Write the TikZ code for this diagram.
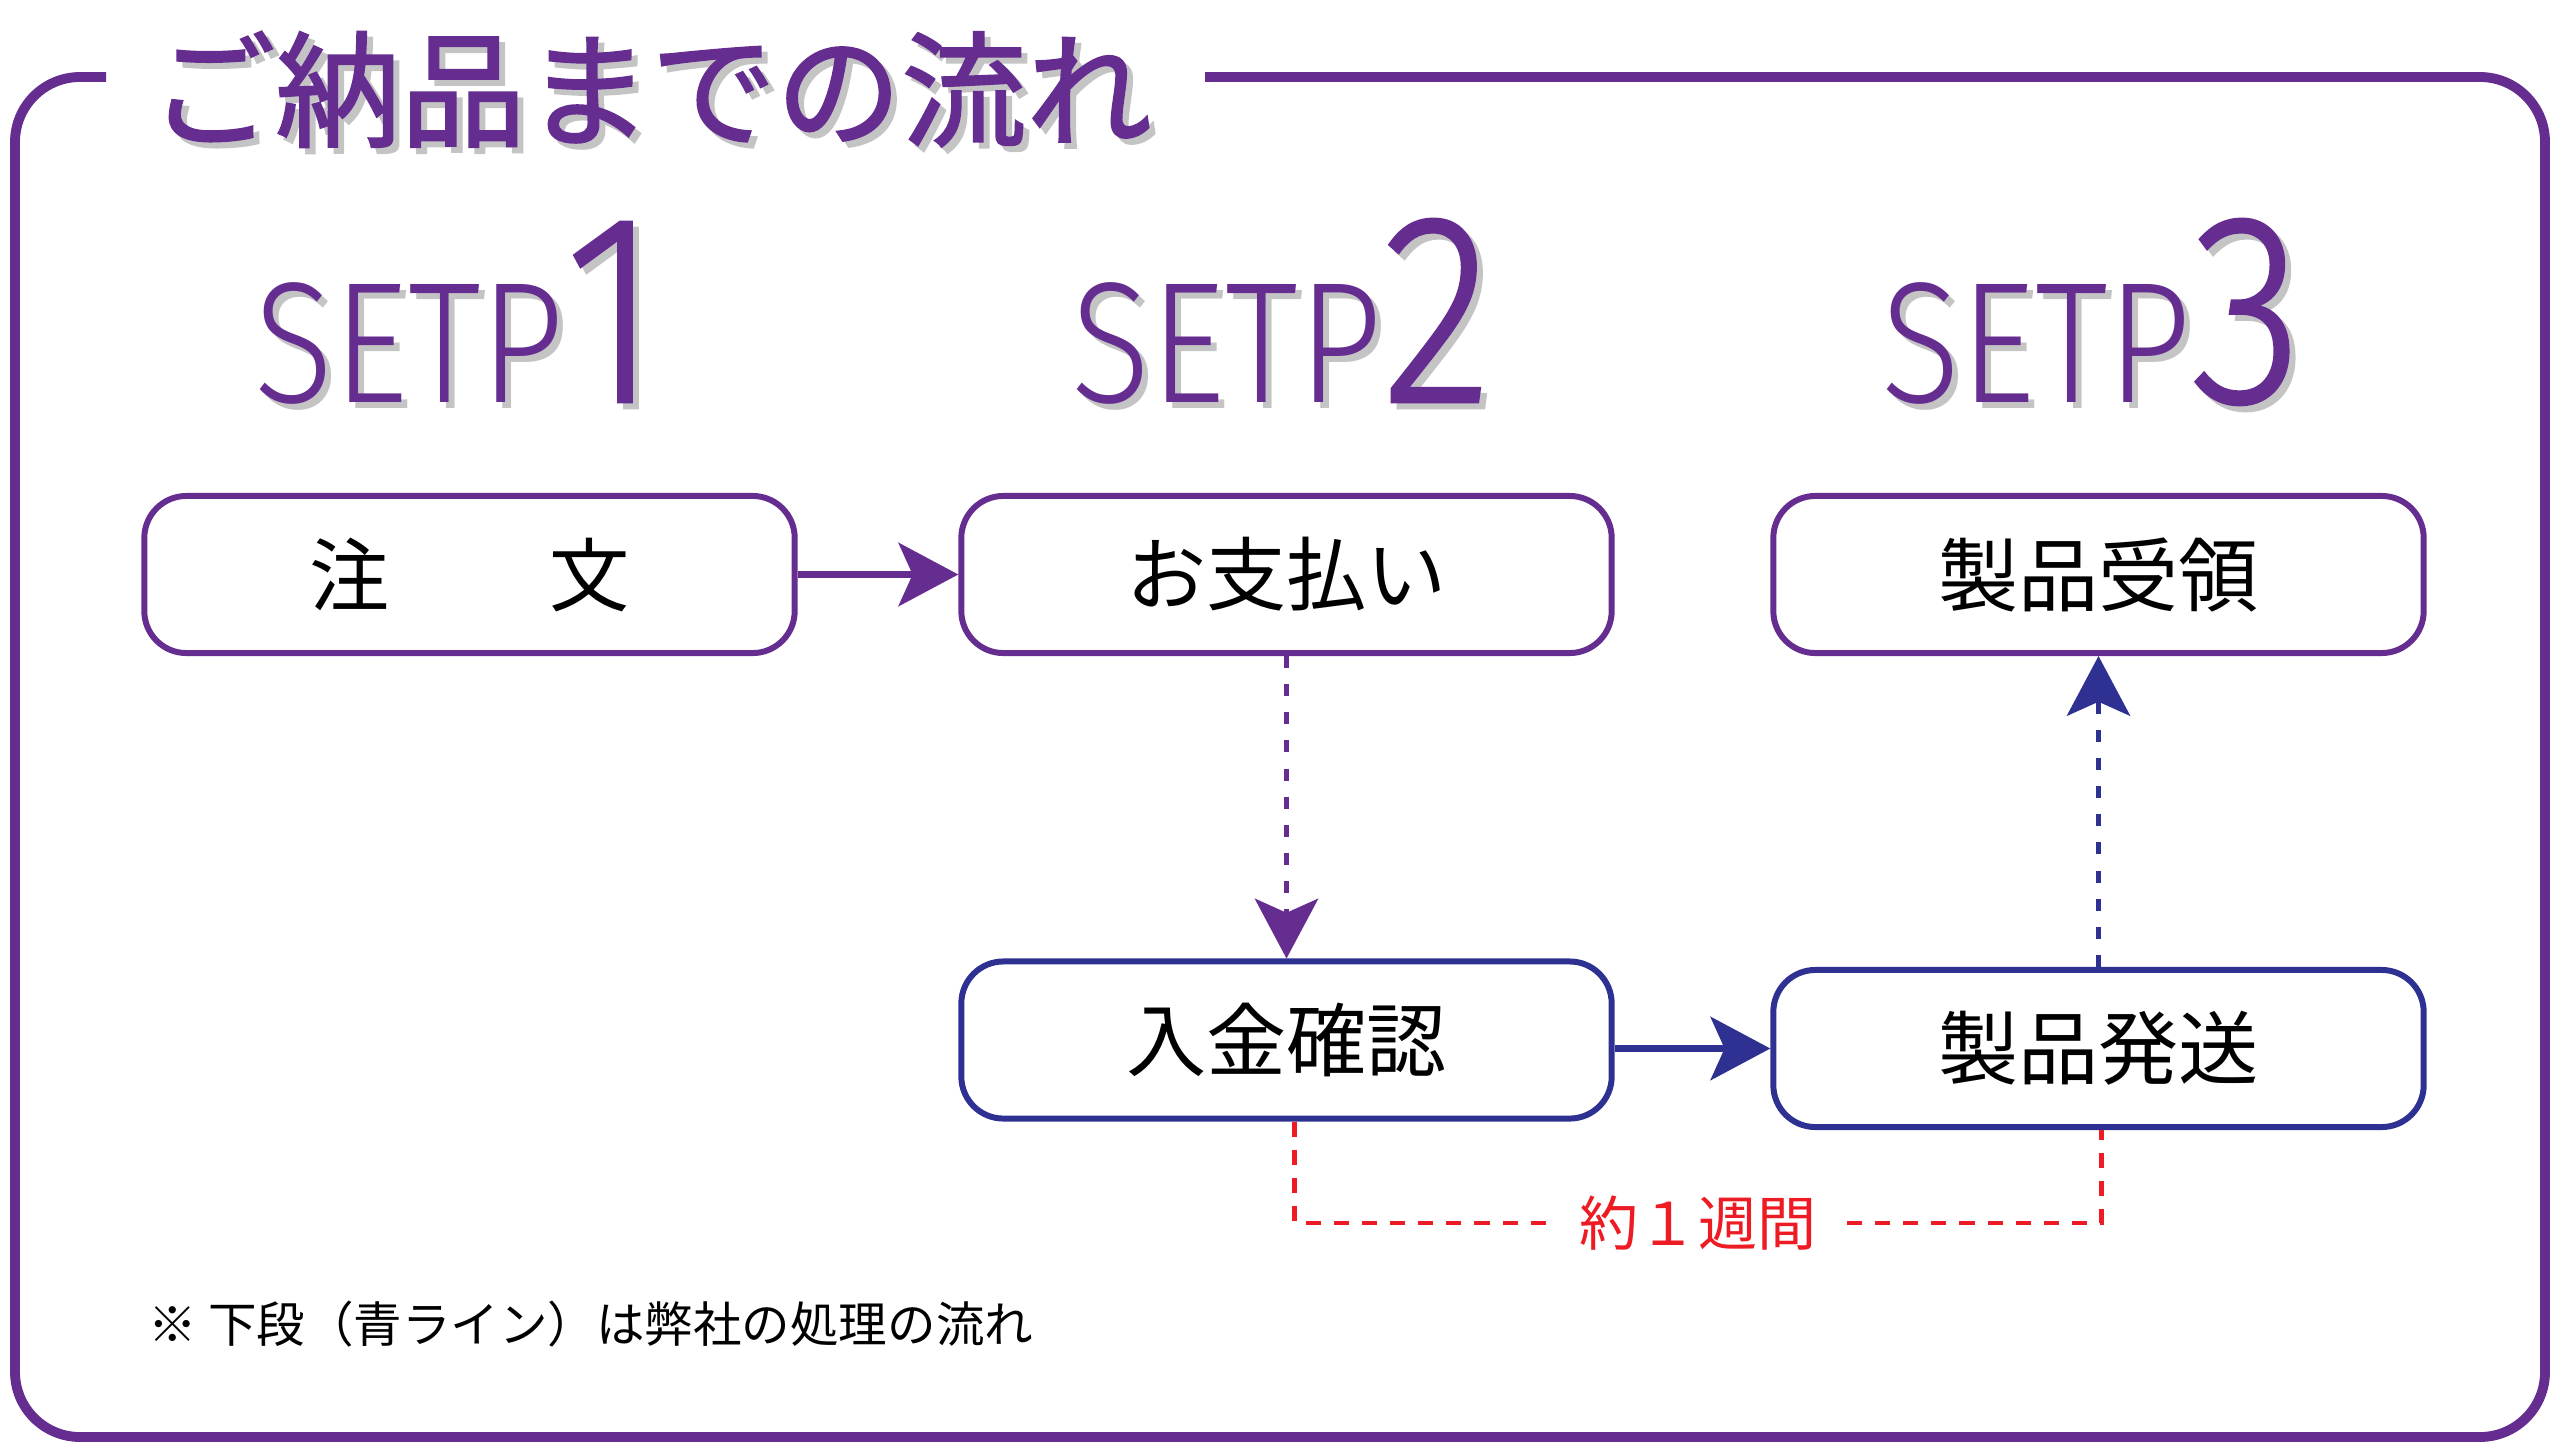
\documentclass[tikz,border=0pt]{standalone}
\usepackage{fontspec}
\usetikzlibrary{arrows.meta,calc}
\newfontfamily\cjk{Noto Sans CJK JP}
\newfontfamily\cjktitle{Noto Sans CJK JP}[FakeBold=1.6]
\newfontfamily\stepfont{Fira Sans}[UprightFont={* Light}]
\newfontfamily\stepdigit{Fira Sans}[UprightFont={* Light}, FakeBold=1.0]
\definecolor{flowpurple}{HTML}{662D91}
\definecolor{flowblue}{HTML}{2E3192}
\definecolor{weekred}{HTML}{ED1C24}
\definecolor{shadegray}{HTML}{C4C4C4}

\begin{document}
\begin{tikzpicture}[x=0.01cm, y=-0.01cm,
  every node/.style={inner sep=0pt},
  box/.style={draw, rounded corners=0.42cm, line width=1.7pt,
    minimum width=6.5cm, minimum height=1.57cm,
    font=\cjk\fontsize{22.8}{24}\selectfont},
  purplebox/.style={box, draw=flowpurple},
  bluebox/.style={box, draw=flowblue},
  flow/.style={line width=1.9pt, -{Stealth[length=17pt,width=18pt,inset=4pt]}},
  dashflow/.style={flow, line width=1.4pt, dash pattern=on 3.4pt off 4.6pt},
  weekline/.style={weekred, line width=1.4pt, dash pattern=on 4.3pt off 3.7pt}]
  \useasboundingbox (0,0) rectangle (2560,1451);

  % helper: purple text over a grey drop shadow
  \newcommand{\shadowed}[4]{% name, options, position, text
    \node[#2, text=shadegray] (#1-sh) at ($(#3)+(6,6)$) {#4};
    \node[#2, text=flowpurple] (#1) at (#3) {#4};
  }
  % helper: narrow step heading
  \newcommand{\steplabel}[1]{%
    \scalebox{0.85}[1]{\stepfont\fontsize{49}{50}\selectfont SETP\stepdigit\fontsize{77}{78}\selectfont #1}}

  %==================== frame & title ====================
  \draw[line width=2.8pt, flowpurple, rounded corners=0.65cm]
    (106,77) -- (15,77) -- (15,1437) -- (2545,1437) -- (2545,77) -- (1205,77);
  \shadowed{title}{anchor=base, font=\cjktitle\fontsize{35.6}{37}\selectfont}{651,137}{ご納品までの流れ}

  %==================== step headings ====================
  \shadowed{step1}{anchor=base}{457,402}{\steplabel{1}}
  \shadowed{step2}{anchor=base}{1282,402}{\steplabel{2}}
  \shadowed{step3}{anchor=base}{2092,402}{\steplabel{3}}

  %==================== boxes ====================
  \node[purplebox] (order)    at (469.5,574.5)  {注　　文};
  \node[purplebox] (payment)  at (1286.5,574.5) {お支払い};
  \node[purplebox] (receipt)  at (2098.5,574.5) {製品受領};
  \node[bluebox]   (confirm)  at (1286.5,1040)  {入金確認};
  \node[bluebox]   (shipping) at (2098.5,1048.5) {製品発送};

  %==================== connectors ====================
  \draw[flow, flowpurple] (order) -- (payment);
  \draw[dashflow, flowpurple] (payment) -- (confirm);
  \draw[flow, flowblue] (confirm.east |- shipping.west) -- (shipping.west);
  \draw[dashflow, flowblue] (shipping) -- (receipt);

  %==================== lead time ====================
  \node[text=weekred, font=\cjk\fontsize{16.8}{18}\selectfont, inner xsep=0.3cm] (week) at (1698,1223) {約１週間};
  \draw[weekline] ([xshift=0.08cm]confirm.south) |- (week.west);
  \draw[weekline] (week.east) -| ([xshift=0.03cm]shipping.south);

  % note
  \node[anchor=base west, font=\cjk\fontsize{13.8}{15}\selectfont] (note) at (148,1342)
    {※ 下段（青ライン）は弊社の処理の流れ};
\end{tikzpicture}
\end{document}
